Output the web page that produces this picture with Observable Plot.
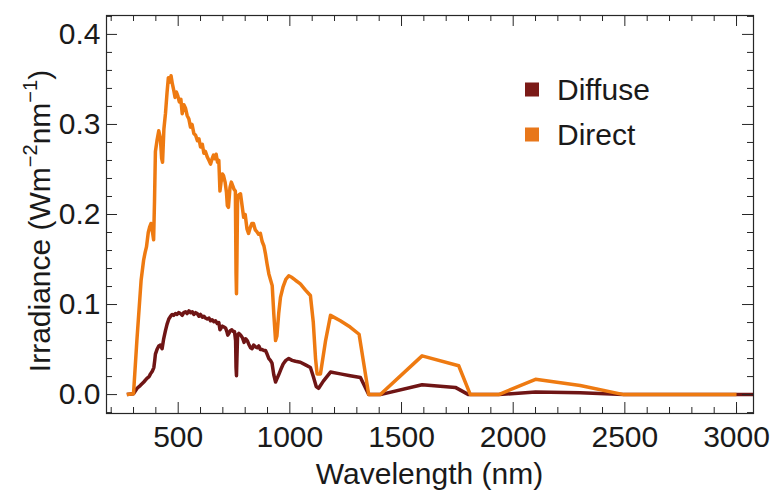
<!DOCTYPE html>
<html><head><meta charset="utf-8">
<script src="https://cdn.jsdelivr.net/npm/d3@7"></script>
<script src="https://cdn.jsdelivr.net/npm/@observablehq/plot@0.6"></script>
<style>html,body{margin:0;padding:0;background:#fff;overflow:hidden}</style>
</head><body><div id="chart"></div>
<script>
const seriesNames = ["Diffuse", "Direct"];
const seriesColors = ["#6f1515", "#ee7a11"];

const diffuseWl = [270,300,316,330,346,360,370,376,384,391,395,398,405,413,420,428,435,443,450,458,466,473,480,488,495,502,510,518,525,533,540,548,556,563,570,578,585,593,600,608,615,622,630,638,645,652,660,667,675,682,687,692,698,705,712,718,722,727,733,740,746,752,757,759,761,763,766,772,780,788,795,802,809,816,824,831,838,846,854,861,868,876,884,891,898,906,913,920,928,936,943,950,958,970,982,995,1010,1025,1047,1070,1092,1105,1118,1129,1150,1182,1226,1270,1316,1353,1405,1592,1741,1800,1935,2100,2300,2495,4000];
const diffuseVal = [0,0.001,0.007,0.01,0.014,0.018,0.02,0.023,0.026,0.03,0.038,0.045,0.05,0.054,0.055,0.051,0.062,0.071,0.078,0.084,0.087,0.089,0.088,0.09,0.089,0.091,0.09,0.088,0.091,0.092,0.09,0.093,0.091,0.092,0.089,0.091,0.09,0.087,0.089,0.086,0.087,0.085,0.084,0.085,0.082,0.083,0.081,0.082,0.079,0.08,0.072,0.074,0.076,0.075,0.074,0.07,0.066,0.068,0.071,0.072,0.07,0.07,0.06,0.03,0.021,0.04,0.066,0.068,0.066,0.063,0.058,0.062,0.06,0.056,0.052,0.051,0.055,0.053,0.052,0.054,0.05,0.05,0.049,0.049,0.045,0.04,0.038,0.035,0.022,0.014,0.018,0.022,0.027,0.034,0.038,0.04,0.038,0.037,0.036,0.033,0.03,0.02,0.009,0.007,0.015,0.025,0.023,0.021,0.019,0,0,0.011,0.008,0,0,0.003,0.002,0,0];

const directWl = [270,300,315,334,345,352,358,366,372,378,384,390,394,398,405,413,420,426,430,436,443,450,456,462,468,474,480,486,492,498,505,512,518,525,533,540,548,555,562,570,578,586,593,600,608,615,622,630,638,645,652,658,664,670,676,682,687,692,698,703,710,716,720,725,732,738,744,750,756,759,761,763,766,772,779,786,793,800,808,815,822,830,837,845,852,860,868,876,884,891,898,906,914,921,928,936,942,950,958,970,982,995,1010,1025,1047,1070,1092,1105,1115,1122,1137,1160,1182,1226,1270,1310,1353,1405,1592,1756,1808,1935,2100,2300,2495,3000];
const directVal = [0,0.001,0.06,0.127,0.149,0.158,0.164,0.18,0.186,0.19,0.182,0.172,0.215,0.27,0.282,0.293,0.285,0.262,0.258,0.295,0.312,0.335,0.352,0.347,0.354,0.345,0.338,0.33,0.336,0.332,0.325,0.328,0.312,0.322,0.318,0.31,0.306,0.297,0.3,0.29,0.288,0.282,0.284,0.275,0.278,0.268,0.27,0.264,0.26,0.256,0.262,0.266,0.262,0.267,0.258,0.26,0.226,0.236,0.245,0.243,0.236,0.225,0.21,0.208,0.23,0.236,0.232,0.228,0.226,0.135,0.112,0.15,0.218,0.222,0.223,0.21,0.197,0.2,0.184,0.179,0.185,0.19,0.19,0.183,0.181,0.178,0.179,0.17,0.165,0.156,0.145,0.134,0.127,0.121,0.09,0.06,0.065,0.09,0.108,0.12,0.128,0.132,0.13,0.127,0.123,0.116,0.11,0.08,0.04,0.023,0.023,0.06,0.088,0.082,0.075,0.067,0,0,0.043,0.032,0,0,0.017,0.01,0,0];

const xMajor = [500,1000,1500,2000,2500,3000];
const xMinor = [200,300,400,600,700,800,900,1100,1200,1300,1400,1600,1700,1800,1900,2100,2200,2300,2400,2600,2700,2800,2900,3000];
const yMajor = [0,0.1,0.2,0.3,0.4];
const yMinor = [-0.02,0.02,0.04,0.06,0.08,0.12,0.14,0.16,0.18,0.22,0.24,0.26,0.28,0.32,0.34,0.36,0.38,0.42];

const xLabel = "Wavelength (nm)";
const yLabelParts = ["Irradiance (Wm", "\u22122", "nm", "\u22121", ")"];

const rows = [];
diffuseWl.forEach((w, i) => rows.push({series: seriesNames[0], wl: w, val: diffuseVal[i]}));
directWl.forEach((w, i) => rows.push({series: seriesNames[1], wl: w, val: directVal[i]}));

const W = 774, H = 493, mL = 106, mR = 21, mT = 15, mB = 80;
const fw = W - mL - mR, fh = H - mT - mB;
const majorLen = 11, minorLen = 6;
const ink = "#262626";
const font = "'Liberation Sans', Arial, Helvetica, sans-serif";

const plot = Plot.plot({
  width: W, height: H,
  marginLeft: mL, marginRight: mR, marginTop: mT, marginBottom: mB,
  style: {fontFamily: font, fontSize: "30px", background: "white", overflow: "visible", color: ink},
  x: {domain: [179, 3076]},
  y: {domain: [-0.021, 0.421]},
  color: {domain: seriesNames, range: seriesColors},
  marks: [
    Plot.line(rows, {x: "wl", y: "val", z: "series", stroke: "series", strokeWidth: 3.5, strokeLinejoin: "round", strokeLinecap: "butt", clip: true}),
    Plot.tickX(xMajor, {x: d => d, insetTop: fh - majorLen, stroke: ink}),
    Plot.tickX(xMinor, {x: d => d, insetTop: fh - minorLen, stroke: ink}),
    Plot.tickX(xMajor, {x: d => d, insetBottom: fh - majorLen, stroke: ink}),
    Plot.tickX(xMinor, {x: d => d, insetBottom: fh - minorLen, stroke: ink}),
    Plot.tickY(yMajor, {y: d => d, insetRight: fw - majorLen, stroke: ink}),
    Plot.tickY(yMinor, {y: d => d, insetRight: fw - minorLen, stroke: ink}),
    Plot.tickY(yMajor, {y: d => d, insetLeft: fw - majorLen, stroke: ink}),
    Plot.tickY(yMinor, {y: d => d, insetLeft: fw - minorLen, stroke: ink}),
    Plot.frame({stroke: ink, strokeWidth: 1.2}),
    Plot.axisX(xMajor, {tickSize: 0, tickPadding: 12, label: null, tickFormat: d => String(d), fontSize: 30, fill: "#1a1a1a"}),
    Plot.axisY(yMajor, {tickSize: 0, tickPadding: 6, label: null, tickFormat: d => d.toFixed(1), fontSize: 30, fill: "#1a1a1a"})
  ]
});

const svg = d3.select(plot);
svg.append("text")
  .attr("x", mL + fw / 2).attr("y", 484)
  .attr("text-anchor", "middle").attr("font-size", 30).attr("fill", "#1a1a1a")
  .text(xLabel);

const yl = svg.append("text")
  .attr("transform", "translate(50,221) rotate(-90)")
  .attr("text-anchor", "middle").attr("font-size", 30).attr("fill", "#1a1a1a");
yl.append("tspan").text(yLabelParts[0]);
yl.append("tspan").attr("font-size", 20).attr("dy", -13).text(yLabelParts[1]);
yl.append("tspan").attr("dy", 13).text(yLabelParts[2]);
yl.append("tspan").attr("font-size", 20).attr("dy", -13).text(yLabelParts[3]);
yl.append("tspan").attr("dy", 13).text(yLabelParts[4]);

const legendColors = ["#7b1a17", "#e8771a"];
const leg = svg.append("g").attr("text-anchor", "start");
seriesNames.forEach((name, i) => {
  const cy = 89.5 + i * 45;
  leg.append("rect").attr("x", 525).attr("y", cy - 7).attr("width", 14).attr("height", 14).attr("fill", legendColors[i]);
  leg.append("text").attr("x", 557).attr("y", cy + 10).attr("text-anchor", "start").attr("font-size", 30).attr("fill", "#1a1a1a").text(name);
});

document.getElementById("chart").appendChild(plot);
</script>
</body></html>
